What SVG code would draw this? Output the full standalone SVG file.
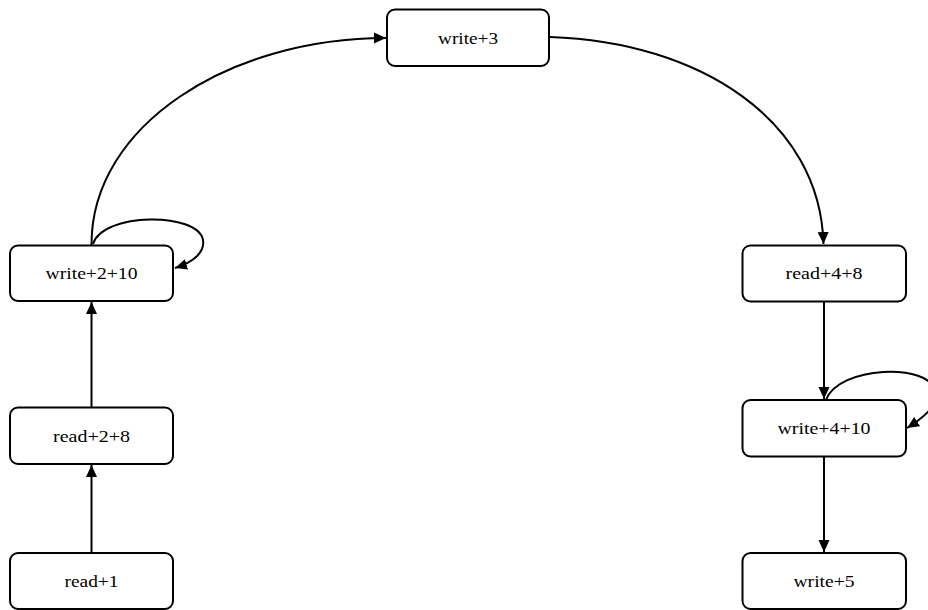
<svg xmlns="http://www.w3.org/2000/svg" width="928" height="610" viewBox="0 0 928 610">
<style>
.node rect{fill:#fff;stroke:#000;stroke-width:2}
.node text{font-family:"Liberation Serif","Times New Roman",serif;font-size:17.5px;fill:#000;text-anchor:middle}
.edge{fill:none;stroke:#000;stroke-width:2;marker-end:url(#arr)}
</style>
<defs>
<marker id="arr" markerUnits="userSpaceOnUse" markerWidth="12" markerHeight="12" viewBox="0 0 12 12" refX="12" refY="6" orient="auto">
<path d="M0,0.5 L12,6 L0,11.5 z" fill="#000"/>
</marker>
</defs>
<g id="edges">
<path class="edge" d="M91.5,553 L91.5,465"/>
<path class="edge" d="M91.5,408 L91.5,302"/>
<path class="edge" d="M91.5,245 C91,125 230,38 386,38"/>
<path class="edge" d="M93,244 C103,212 198,212 203,240 C205,252 194,262 175,268"/>
<path class="edge" d="M550,37 C700,42 820,120 823.5,244"/>
<path class="edge" d="M824,302 L824,399"/>
<path class="edge" d="M826,400 C838,366 930,362 936,392 C938,405 926,416 907,428"/>
<path class="edge" d="M824,457 L824,552"/>
</g>
<g id="n_write3" class="node"><rect x="387" y="9.5" width="162" height="56.5" rx="8"/><text x="468" y="44" textLength="60" lengthAdjust="spacingAndGlyphs">write+3</text></g>
<g id="n_write2_10" class="node"><rect x="10" y="245.5" width="163" height="55.5" rx="8"/><text x="91.5" y="279" textLength="92" lengthAdjust="spacingAndGlyphs">write+2+10</text></g>
<g id="n_read2_8" class="node"><rect x="10" y="407.5" width="163" height="56.5" rx="8"/><text x="91.5" y="442" textLength="77" lengthAdjust="spacingAndGlyphs">read+2+8</text></g>
<g id="n_read1" class="node"><rect x="10" y="553" width="163" height="56" rx="8"/><text x="91.5" y="587" textLength="54" lengthAdjust="spacingAndGlyphs">read+1</text></g>
<g id="n_read4_8" class="node"><rect x="742.5" y="245.5" width="163.5" height="56" rx="8"/><text x="824" y="279" textLength="77" lengthAdjust="spacingAndGlyphs">read+4+8</text></g>
<g id="n_write4_10" class="node"><rect x="742.5" y="400" width="163.5" height="56.5" rx="8"/><text x="824" y="434" textLength="93" lengthAdjust="spacingAndGlyphs">write+4+10</text></g>
<g id="n_write5" class="node"><rect x="742.5" y="553" width="163.5" height="56" rx="8"/><text x="824" y="587" textLength="61" lengthAdjust="spacingAndGlyphs">write+5</text></g>
</svg>
